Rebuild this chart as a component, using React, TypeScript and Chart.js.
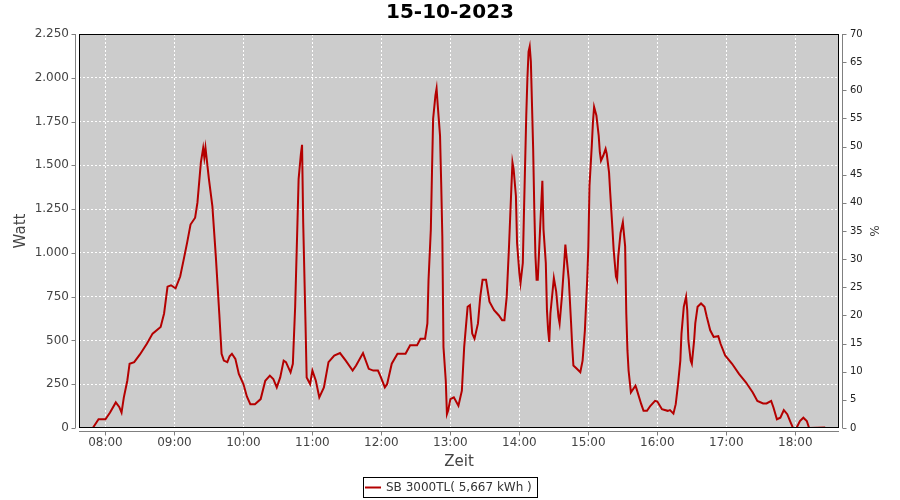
import React, { useEffect, useRef } from 'react';
import { Chart, registerables } from 'chart.js';

Chart.register(...registerables);

const chartTitle = '15-10-2023';
const seriesLabel = 'SB 3000TL( 5,667 kWh )';

const times: string[] = [
  '07:49','07:54','08:00','08:04','08:09','08:12','08:14','08:16','08:19','08:21','08:25','08:30','08:36','08:41','08:48','08:51','08:54','08:57',
  '09:01','09:05','09:08','09:11','09:14','09:18','09:20','09:23','09:25','09:26','09:27','09:30','09:33','09:36','09:39','09:41','09:43','09:46','09:48','09:50','09:53','09:56',
  '10:00','10:03','10:06','10:10','10:15','10:19','10:23','10:26','10:29','10:32','10:35','10:37','10:41','10:43','10:45','10:47','10:48','10:50','10:51','10:52','10:54','10:55','10:58',
  '11:00','11:03','11:06','11:10','11:14','11:19','11:24','11:29','11:35','11:38','11:44','11:49','11:53','11:57','11:59',
  '12:03','12:05','12:09','12:14','12:21','12:25','12:31','12:34','12:38','12:40','12:41','12:43','12:44','12:45','12:47','12:48','12:49','12:51','12:52','12:53','12:54','12:56','12:57','12:58',
  '13:00','13:03','13:07','13:10','13:12','13:15','13:17','13:19','13:21','13:24','13:26','13:28','13:31','13:34','13:38','13:42','13:45','13:47','13:49','13:51','13:53','13:54','13:55','13:57','13:58',
  '14:00','14:01','14:03','14:04','14:06','14:07','14:08','14:09','14:10','14:12','14:13','14:14','14:15','14:16','14:18','14:20','14:21','14:23','14:24','14:25','14:26','14:27','14:29','14:30','14:32','14:34','14:35','14:37','14:39','14:40','14:41','14:43','14:45','14:46','14:47','14:50','14:53','14:55','14:57','14:59',
  '15:00','15:01','15:03','15:04','15:05','15:07','15:09','15:10','15:11','15:13','15:15','15:16','15:18','15:19','15:21','15:22','15:24','15:25','15:26','15:28','15:30','15:32','15:33','15:34','15:35','15:37','15:38','15:41','15:42','15:46','15:48','15:51','15:54','15:58',
  '16:00','16:04','16:09','16:11','16:14','16:16','16:18','16:20','16:21','16:23','16:25','16:26','16:27','16:29','16:30','16:32','16:33','16:35','16:38','16:41','16:43','16:46','16:49','16:53','16:55','16:59',
  '17:05','17:11','17:17','17:23','17:27','17:32','17:35','17:39','17:41','17:44','17:47','17:50','17:53','17:56','17:58',
  '18:01','18:04','18:07','18:10','18:12','18:26',
];

const watts: number[] = [
  0,50,50,88,146,120,88,175,270,367,376,420,481,539,577,654,807,815,
  798,865,960,1057,1162,1201,1287,1517,1598,1545,1600,1421,1267,980,654,424,385,376,410,424,395,309,
  251,180,136,136,165,270,299,280,232,289,385,376,318,367,692,1172,1421,1565,1617,1172,597,289,251,
  328,270,175,232,376,414,428,385,328,357,428,338,328,328,299,
  232,251,367,424,424,472,472,510,510,597,846,1133,1460,1766,1900,1939,1843,1670,1402,1095,462,270,79,98,
  165,175,127,213,462,692,702,539,510,597,750,846,846,721,673,644,616,616,750,1037,1364,1517,1479,1325,1057,
  884,827,942,1230,1785,1997,2150,2179,2092,1594,1249,980,846,846,1133,1412,1133,942,673,558,491,654,788,856,780,635,597,750,942,1047,980,846,597,462,357,338,318,385,558,846,
  1037,1383,1613,1747,1834,1785,1670,1575,1527,1556,1594,1565,1460,1345,1133,1019,865,846,980,1114,1175,1037,654,443,328,203,213,242,222,136,98,98,127,155,
  151,107,98,102,82,136,251,385,539,692,750,673,500,385,367,500,597,692,711,692,635,558,520,524,481,414,
  367,309,261,203,155,140,140,155,117,50,59,102,79,31,0,
  0,40,59,40,0,3,
];

const hourTicks: string[] = ['08:00','09:00','10:00','11:00','12:00','13:00','14:00','15:00','16:00','17:00','18:00'];
const wattTicks: number[] = [0, 250, 500, 750, 1000, 1250, 1500, 1750, 2000, 2250];
const percentTicks: number[] = [0, 5, 10, 15, 20, 25, 30, 35, 40, 45, 50, 55, 60, 65, 70];

const xMinTime = '07:37';
const xMaxTime = '18:38';

const toMin = (s: string) => {
  const [h, m] = s.split(':').map(Number);
  return h * 60 + m;
};
const fmtTime = (v: number) => {
  const h = Math.floor(v / 60);
  const m = Math.round(v - h * 60);
  return `${String(h).padStart(2, '0')}:${String(m).padStart(2, '0')}`;
};
const fmtWatt = (v: number) => {
  if (v >= 1000) {
    const th = Math.floor(v / 1000);
    const rest = String(Math.round(v - th * 1000)).padStart(3, '0');
    return `${th}.${rest}`;
  }
  return String(v);
};

const FONT = "'DejaVu Sans', sans-serif";
const AXIS_GRAY = '#808080';
const TEXT = '#444444';
const LINE_COLOR = '#b40000';

const plotPlugin = {
  id: 'plotDeco',
  beforeDraw(chart: any) {
    const { ctx, chartArea: a } = chart;
    ctx.save();
    ctx.fillStyle = '#cccccc';
    ctx.fillRect(a.left, a.top, a.right - a.left, a.bottom - a.top);
    ctx.restore();
  },
  afterDatasetsDraw(chart: any) {
    const { ctx, chartArea: a, scales } = chart;
    ctx.save();
    ctx.strokeStyle = '#000000';
    ctx.lineWidth = 1;
    ctx.strokeRect(Math.round(a.left) + 0.5, Math.round(a.top) + 0.5, Math.round(a.right - a.left) - 1, Math.round(a.bottom - a.top) - 1);

    ctx.strokeStyle = AXIS_GRAY;
    ctx.beginPath();
    const lx = Math.round(a.left) - 4 + 0.5;
    ctx.moveTo(lx, a.top);
    ctx.lineTo(lx, a.bottom);
    scales.y.ticks.forEach((t: any) => {
      const y = Math.round(scales.y.getPixelForValue(t.value)) + 0.5;
      ctx.moveTo(lx - 4, y);
      ctx.lineTo(lx, y);
    });
    const rx = Math.round(a.right) + 3 + 0.5;
    ctx.moveTo(rx, a.top);
    ctx.lineTo(rx, a.bottom);
    scales.y1.ticks.forEach((t: any) => {
      const y = Math.round(scales.y1.getPixelForValue(t.value)) + 0.5;
      ctx.moveTo(rx, y);
      ctx.lineTo(rx + 4, y);
    });
    const by = Math.round(a.bottom) + 3 + 0.5;
    ctx.moveTo(a.left, by);
    ctx.lineTo(a.right, by);
    scales.x.ticks.forEach((t: any) => {
      const x = Math.round(scales.x.getPixelForValue(t.value)) + 0.5;
      ctx.moveTo(x, by);
      ctx.lineTo(x, by + 4);
    });
    ctx.stroke();
    ctx.restore();
  },
  afterDraw(chart: any) {
    const { ctx, width } = chart;
    ctx.save();
    ctx.font = `12px ${FONT}`;
    const tw = ctx.measureText(seriesLabel).width;
    const sample = 16;
    const gap = 5;
    const padL = 2;
    const padR = 5;
    const boxW = padL + sample + gap + tw + padR;
    const boxH = 20;
    const boxLeft = Math.round(width / 2 - boxW / 2);
    const boxTop = 477;
    ctx.strokeStyle = '#000000';
    ctx.lineWidth = 1;
    ctx.strokeRect(boxLeft + 0.5, boxTop + 0.5, Math.round(boxW), boxH);
    const cy = boxTop + boxH / 2 + 0.5;
    ctx.strokeStyle = LINE_COLOR;
    ctx.lineWidth = 2;
    ctx.beginPath();
    ctx.moveTo(boxLeft + padL, cy);
    ctx.lineTo(boxLeft + padL + sample, cy);
    ctx.stroke();
    ctx.fillStyle = '#333333';
    ctx.textBaseline = 'middle';
    ctx.textAlign = 'left';
    ctx.fillText(seriesLabel, boxLeft + padL + sample + gap, cy);
    ctx.restore();
  },
};

export default function App() {
  const ref = useRef<HTMLCanvasElement | null>(null);

  useEffect(() => {
    document.body.style.margin = '0';
    const canvas = ref.current;
    if (!canvas) return;
    const points = times.map((t, i) => ({ x: toMin(t), y: watts[i] }));
    const chart = new Chart(canvas, {
      type: 'line',
      data: {
        datasets: [
          {
            label: seriesLabel,
            data: points,
            borderColor: LINE_COLOR,
            backgroundColor: LINE_COLOR,
            borderWidth: 2,
            pointRadius: 0,
            tension: 0,
            fill: false,
            yAxisID: 'y',
          },
        ],
      },
      options: {
        responsive: false,
        animation: false,
        parsing: false as any,
        layout: { padding: { top: 0, bottom: 26, left: 0, right: 0 } },
        plugins: {
          title: {
            display: true,
            text: chartTitle,
            color: '#000000',
            font: { family: FONT, size: 20, weight: 'bold' },
            padding: { top: 1, bottom: 9 },
          },
          legend: { display: false },
          tooltip: { enabled: false },
        },
        scales: {
          x: {
            type: 'linear',
            min: toMin(xMinTime),
            max: toMin(xMaxTime),
            afterBuildTicks: (scale: any) => {
              scale.ticks = hourTicks.map((h) => ({ value: toMin(h) }));
            },
            afterFit: (scale: any) => {
              scale.height = 46;
            },
            ticks: {
              autoSkip: false,
              maxRotation: 0,
              padding: 8,
              color: TEXT,
              font: { family: FONT, size: 12 },
              callback: (v: any) => fmtTime(Number(v)),
            },
            grid: { color: '#ffffff', lineWidth: 1, drawTicks: false },
            border: { display: false, dash: [2, 2] },
            title: {
              display: true,
              text: 'Zeit',
              color: TEXT,
              font: { family: FONT, size: 15 },
              padding: { top: 0, bottom: 3 },
            },
          },
          y: {
            type: 'linear',
            position: 'left',
            min: 0,
            max: 2250,
            afterBuildTicks: (scale: any) => {
              scale.ticks = wattTicks.map((v) => ({ value: v }));
            },
            afterFit: (scale: any) => {
              scale.width = 79;
            },
            ticks: {
              padding: 10,
              color: TEXT,
              font: { family: FONT, size: 12 },
              callback: (v: any) => fmtWatt(Number(v)),
            },
            grid: { color: '#ffffff', lineWidth: 1, drawTicks: false },
            border: { display: false, dash: [2, 2] },
            title: {
              display: true,
              text: 'Watt',
              color: TEXT,
              font: { family: FONT, size: 15 },
              padding: { top: 12, bottom: 0 },
            },
          },
          y1: {
            type: 'linear',
            position: 'right',
            display: true,
            min: 0,
            max: 70,
            afterBuildTicks: (scale: any) => {
              scale.ticks = percentTicks.map((v) => ({ value: v }));
            },
            afterFit: (scale: any) => {
              scale.width = 61;
            },
            ticks: {
              padding: 11,
              color: '#222222',
              font: { family: FONT, size: 10 },
            },
            grid: { display: false, drawTicks: false },
            border: { display: false },
            title: {
              display: true,
              text: '%',
              color: TEXT,
              font: { family: FONT, size: 12 },
              padding: { top: 20, bottom: 0 },
            },
          },
        },
      } as any,
      plugins: [plotPlugin],
    });
    return () => chart.destroy();
  }, []);

  return (
    <div style={{ width: 900, height: 500 }}>
      <canvas ref={ref} width={900} height={500} style={{ width: 900, height: 500, display: 'block' }} />
    </div>
  );
}
